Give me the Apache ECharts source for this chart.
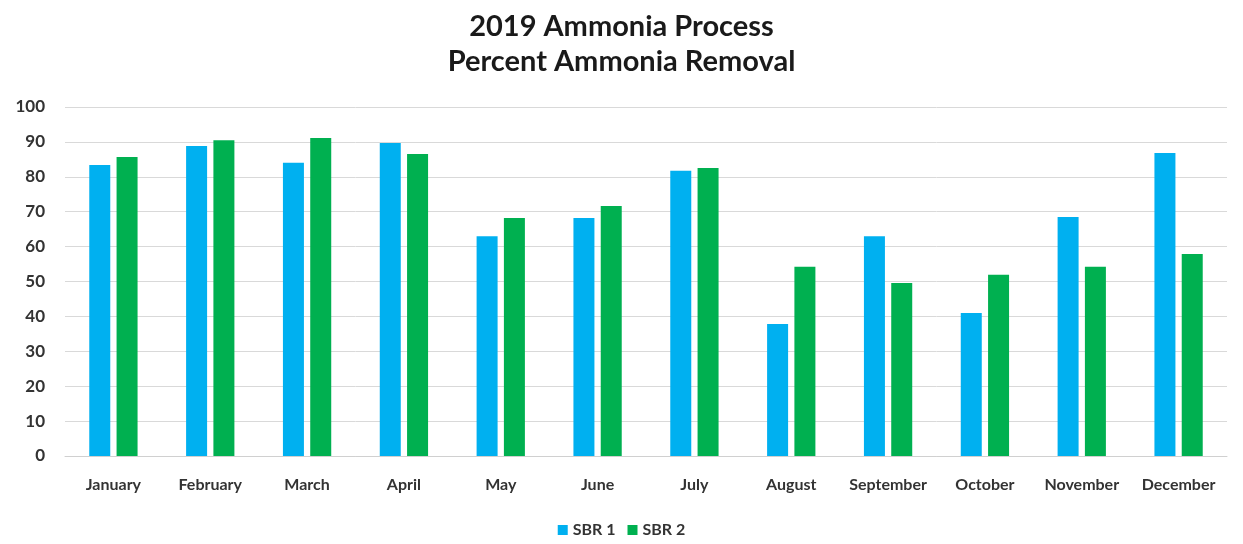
<!DOCTYPE html>
<html>
<head>
<meta charset="utf-8">
<script src="https://cdn.jsdelivr.net/npm/echarts@6/dist/echarts.min.js"></script>
<style>html,body{margin:0;padding:0;background:#fff}#c{width:1243px;height:544px}</style>
</head>
<body>
<div id="c"></div>
<script>
const categories = ['January','February','March','April','May','June','July','August','September','October','November','December'];
const sbr1 = [83.4, 88.8, 84.0, 89.7, 63.0, 68.2, 81.7, 37.8, 63.0, 41.0, 68.5, 86.8];
const sbr2 = [85.7, 90.5, 91.1, 86.5, 68.2, 71.6, 82.5, 54.2, 49.6, 51.9, 54.2, 57.9];
const yTicks = [0, 10, 20, 30, 40, 50, 60, 70, 80, 90, 100];

const chart = echarts.init(document.getElementById('c'));
const font = 'Lato, "Open Sans", sans-serif';
chart.setOption({
  animation: false,
  title: {
    text: '2019 Ammonia Process\nPercent Ammonia Removal',
    left: 'center', top: 4,
    textStyle: { fontFamily: font, fontWeight: 'bold', fontSize: 29, lineHeight: 35, color: '#1a1a1a' }
  },
  legend: {
    bottom: 1, left: 'center', itemWidth: 10, itemHeight: 10, itemGap: 12,
    icon: 'rect',
    textStyle: { fontFamily: font, fontWeight: 'bold', fontSize: 16, color: '#333' },
    data: ['SBR 1', 'SBR 2']
  },
  grid: { left: 65, right: 16, top: 107, bottom: 88 },
  xAxis: {
    type: 'category', data: categories,
    axisLine: { lineStyle: { color: '#d0d0d0' } },
    axisTick: { show: false },
    axisLabel: { fontFamily: font, fontWeight: 'bold', fontSize: 16, color: '#333', margin: 21, interval: 0 }
  },
  yAxis: {
    type: 'value', min: yTicks[0], max: yTicks[yTicks.length - 1], interval: 10,
    axisLine: { show: false }, axisTick: { show: false },
    splitLine: { lineStyle: { color: '#d9d9d9' } },
    axisLabel: { fontFamily: font, fontWeight: 'bold', fontSize: 17, color: '#333', margin: 20 }
  },
  series: [
    { name: 'SBR 1', type: 'bar', data: sbr1, barWidth: 21, barGap: '30%', itemStyle: { color: '#00B0F0' } },
    { name: 'SBR 2', type: 'bar', data: sbr2, barWidth: 21, itemStyle: { color: '#00B050' } }
  ]
});
</script>
</body>
</html>
